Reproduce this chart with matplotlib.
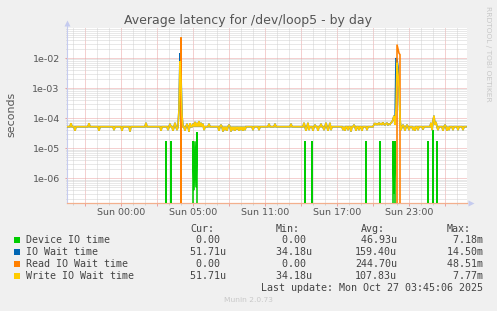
import numpy as np
import matplotlib
matplotlib.use('Agg')
import matplotlib.pyplot as plt
from matplotlib.ticker import FixedLocator, NullFormatter
from matplotlib.patches import Rectangle

# ---------------- data ----------------
# sample grid: 5-minute steps, minutes relative to Sun 00:00
t_start_min, t_end_min, step_min = -270, 1730, 5

# Write IO wait time (yellow): baseline plus read excursions (minutes, seconds)
write_base = 5.2e-5
write_t = [-250, -230, -160, -110, -35, 5, 45, 125, 200, 235, 245, 260, 270, 280,
           290, 295, 300, 305, 320, 330, 340, 345, 360, 370, 380, 390, 400, 410, 415,
           440, 490, 500, 510, 520, 530, 540, 550, 560, 570, 580, 590, 600, 610, 620,
           660, 690, 740, 770, 850, 915, 925, 935, 940, 960, 970, 985, 1000, 1015,
           1025, 1035, 1045, 1050, 1110, 1120, 1135, 1150, 1165, 1175, 1190, 1205,
           1230, 1265, 1270, 1275, 1280, 1285, 1290, 1295, 1300, 1305, 1310, 1315,
           1320, 1325, 1330, 1335, 1340, 1345, 1350, 1355, 1360, 1365, 1370, 1375,
           1380, 1385, 1390, 1395, 1400, 1410, 1420, 1430, 1440, 1460, 1470, 1485,
           1510, 1550, 1555, 1560, 1565, 1570, 1575, 1585, 1610, 1620, 1630, 1640,
           1660, 1685, 1710]
write_v = [6.8e-5, 3.8e-5, 6.8e-5, 3.8e-5, 4.0e-5, 3.8e-5, 3.6e-5, 7.0e-5, 3.8e-5,
           4.0e-5, 6.5e-5, 3.8e-5, 7.0e-5, 4.0e-5,
           2.0e-4, 7.77e-3, 1.5e-3, 1.2e-4, 3.8e-5, 6.5e-5, 3.6e-5, 6.8e-5, 6.5e-5,
           7.5e-5, 7.0e-5, 8.0e-5, 7.0e-5, 6.5e-5, 4.0e-5,
           6.5e-5, 3.8e-5, 6.0e-5, 3.6e-5, 4.0e-5, 3.8e-5, 6.0e-5, 3.6e-5, 4.0e-5,
           3.8e-5, 4.2e-5, 3.8e-5, 4.0e-5, 3.8e-5, 4.0e-5,
           4.0e-5, 4.0e-5, 6.5e-5, 6.5e-5, 6.5e-5, 7.0e-5, 3.8e-5, 7.0e-5, 4.0e-5,
           3.8e-5, 6.0e-5, 3.8e-5, 6.5e-5, 4.0e-5,
           7.0e-5, 3.8e-5, 7.0e-5, 4.0e-5, 4.0e-5, 3.8e-5, 4.0e-5, 3.6e-5, 6.0e-5,
           3.8e-5, 4.0e-5, 3.8e-5,
           4.0e-5, 6.2e-5, 6.8e-5, 6.0e-5, 6.5e-5, 6.0e-5, 7.0e-5, 6.2e-5, 6.6e-5,
           6.0e-5, 7.2e-5, 6.2e-5,
           6.0e-5, 6.6e-5, 6.8e-5, 6.0e-5, 6.4e-5, 6.2e-5, 7.0e-5, 7.5e-5, 9.0e-5,
           1.2e-4, 6.0e-5, 2.0e-4,
           7.0e-3, 3.0e-3, 1.0e-3, 1.0e-4, 4.0e-5, 6.0e-5, 3.8e-5, 6.0e-5, 4.0e-5,
           4.0e-5, 3.8e-5, 4.0e-5,
           4.2e-5, 7.0e-5, 4.0e-5, 8.0e-5, 1.2e-4, 6.0e-5, 7.5e-5, 4.0e-5, 3.8e-5,
           6.0e-5, 3.8e-5, 4.0e-5,
           4.0e-5, 4.0e-5, 4.0e-5]

# IO wait time (blue): same as write except during the bursts
iowait_t = [295, 300, 1375, 1380, 1385]
iowait_v = [1.45e-2, 3.0e-3, 1.0e-2, 9.0e-3, 5.0e-3]

# Read IO wait time (orange): zero except bursts
read_t = [300, 1380, 1385, 1390, 1395]
read_v = [4.851e-2, 2.8e-2, 2.0e-2, 1.45e-2, 1.3e-2]

# Device IO time (green): zero except short spikes
device_t = [225, 250, 360, 365, 370, 375, 380, 920, 955, 1225, 1295, 1360, 1365,
            1370, 1535, 1560, 1580]
device_v = [1.7e-5, 1.7e-5, 1.7e-5, 4e-7, 1.7e-5, 5e-7, 3.4e-5, 1.7e-5, 1.7e-5,
            1.7e-5, 1.7e-5, 1.7e-5, 3e-7, 1.7e-5, 1.7e-5, 4.0e-5, 1.7e-5]

series_names = ['Device IO time', 'IO Wait time', 'Read IO Wait time', 'Write IO Wait time']
series_colors = ['#00CC00', '#0066B3', '#FF8000', '#FFCC00']
cur_vals = [0.00, 51.71, 0.00, 51.71]
cur_units = ['', 'u', '', 'u']
min_vals = [0.00, 34.18, 0.00, 34.18]
min_units = ['', 'u', '', 'u']
avg_vals = [46.93, 159.40, 244.70, 107.83]
avg_units = ['u', 'u', 'u', 'u']
max_vals = [7.18, 14.50, 48.51, 7.77]
max_units = ['m', 'm', 'm', 'm']

xtick_hours = [0, 6, 12, 18, 24]
xtick_labels = ['Sun 00:00', 'Sun 05:00', 'Sun 11:00', 'Sun 17:00', 'Sun 23:00']
ytick_vals = [1e-2, 1e-3, 1e-4, 1e-5, 1e-6]
ytick_labels = ['1e-02', '1e-03', '1e-04', '1e-05', '1e-06']

title = 'Average latency for /dev/loop5 - by day'
last_update = 'Last update: Mon Oct 27 03:45:06 2025'

# ---------------- build series on the time grid ----------------
minutes = np.arange(t_start_min, t_end_min, step_min)
hours = minutes / 60.0
idx = lambda m: (np.asarray(m) - t_start_min) // step_min

write = np.full(minutes.size, write_base)
write[idx(write_t)] = write_v
iowait = write.copy()
iowait[idx(iowait_t)] = iowait_v
read = np.zeros(minutes.size)
read[idx(read_t)] = read_v
device = np.zeros(minutes.size)
device[idx(device_t)] = device_v
data = [device, iowait, read, write]

# ---------------- figure ----------------
W, H = 497, 311
fig = plt.figure(figsize=(W / 100, H / 100), dpi=100, facecolor='#f0f0f0')
L, R, T, B = 67, 467, 28, 203
ax = fig.add_axes([L / W, 1 - B / H, (R - L) / W, (B - T) / H])
ax.set_facecolor('white')

for d, c in zip(data, series_colors):
    ax.plot(hours, d, color=c, lw=1.15, solid_joinstyle='miter', zorder=3)

ax.set_yscale('log', nonpositive='clip')
ax.set_xlim(t_start_min / 60, t_end_min / 60)
ax.set_ylim(1.503e-7, 0.1)

# grids
red = '#eaa2a2'
grey = '#d2d2d2'
major_x = np.arange(-3, 28, 3)
ax.xaxis.set_major_locator(FixedLocator(major_x))
ax.set_xticklabels([xtick_labels[xtick_hours.index(h)] if h in xtick_hours else ''
                    for h in major_x])
minor_x = [h for h in range(-4, 29) if h % 3 != 0]
ax.xaxis.set_minor_locator(FixedLocator(minor_x))
ax.set_yticks(ytick_vals, labels=ytick_labels)
minor_y = [k * 10.0 ** e for e in range(-7, -1) for k in range(2, 10)]
ax.yaxis.set_minor_locator(FixedLocator(minor_y))
ax.yaxis.set_minor_formatter(NullFormatter())

ax.grid(which='major', color=red, ls=(0, (1, 1)), lw=0.72)
ax.grid(which='minor', color=grey, ls=(0, (1, 1)), lw=0.72)
ax.set_axisbelow(True)

ax.tick_params(axis='x', which='major', length=2.2, width=0.72, color=red,
               labelsize=6.8, labelcolor='#555555', pad=1.6)
ax.tick_params(axis='x', which='minor', length=1.4, width=0.72, color=grey)
ax.tick_params(axis='y', which='major', length=1.4, width=0.72, color=red,
               labelsize=6.8, labelcolor='#555555', pad=3.8)
ax.tick_params(axis='y', which='minor', length=1.0, width=0.72, color=grey)

for s in ['top', 'right']:
    ax.spines[s].set_visible(False)
ax.spines['left'].set_color('#c5cbef')
ax.spines['left'].set_linewidth(0.8)
ax.spines['left'].set_bounds(1.503e-7, 0.12)
ax.spines['bottom'].set_color('#f3b08e')
ax.spines['bottom'].set_linewidth(0.9)
ax.plot([0], [1 + 5 / 175], marker='^', ms=4.5, color='#c5cbef', mec='none',
        transform=ax.transAxes, clip_on=False)
ax.plot([1 + 4 / 400], [0], marker='>', ms=4.5, color='#c5cbef', mec='none',
        transform=ax.transAxes, clip_on=False)

# texts
def px(x, y):
    return x / W, 1 - y / H

fig.text(*px(248, 24.3), title, ha='center', va='baseline', fontsize=9,
         color='#555555')
fig.text(*px(11.3, 114.5), 'seconds', rotation=90, ha='center', va='center',
         fontsize=7.9, color='#555555')
fig.text(*px(488, 53.4), 'RRDTOOL / TOBI OETIKER', rotation=270, ha='center',
         va='center', fontsize=5.4, color='#c8c8c8')
fig.text(*px(248, 300.3), 'Munin 2.0.73', ha='center', va='center', fontsize=5.4,
         color='#c8c8c8')

mono = dict(family='DejaVu Sans Mono', fontsize=7.2, color='#444444', va='baseline')
headers = ['Cur:', 'Min:', 'Avg:', 'Max:']
header_x = [190.2, 275.5, 361.2, 446.2]
col_x = [183.8, 270.2, 355.2, 441.2]
for hx, hd in zip(header_x, headers):
    fig.text(*px(hx, 231.5), hd, ha='left', **mono)

cols = [(cur_vals, cur_units), (min_vals, min_units), (avg_vals, avg_units),
        (max_vals, max_units)]
for i, (name, col) in enumerate(zip(series_names, series_colors)):
    base = 243 + 12 * i
    fig.add_artist(Rectangle(px(14, base - 0.3), 6 / W, 6 / H,
                             transform=fig.transFigure, facecolor=col,
                             edgecolor='none'))
    fig.text(*px(25.6, base), name, ha='left', **mono)
    for cx, (vals, units) in zip(col_x, cols):
        s = f"{vals[i]:6.2f}{units[i] or ' '}"
        fig.text(*px(cx, base), s, ha='left', **mono)

fig.text(*px(483.2, 291), last_update, ha='right', **mono)

fig.savefig('out.png', dpi=100, facecolor=fig.get_facecolor())
